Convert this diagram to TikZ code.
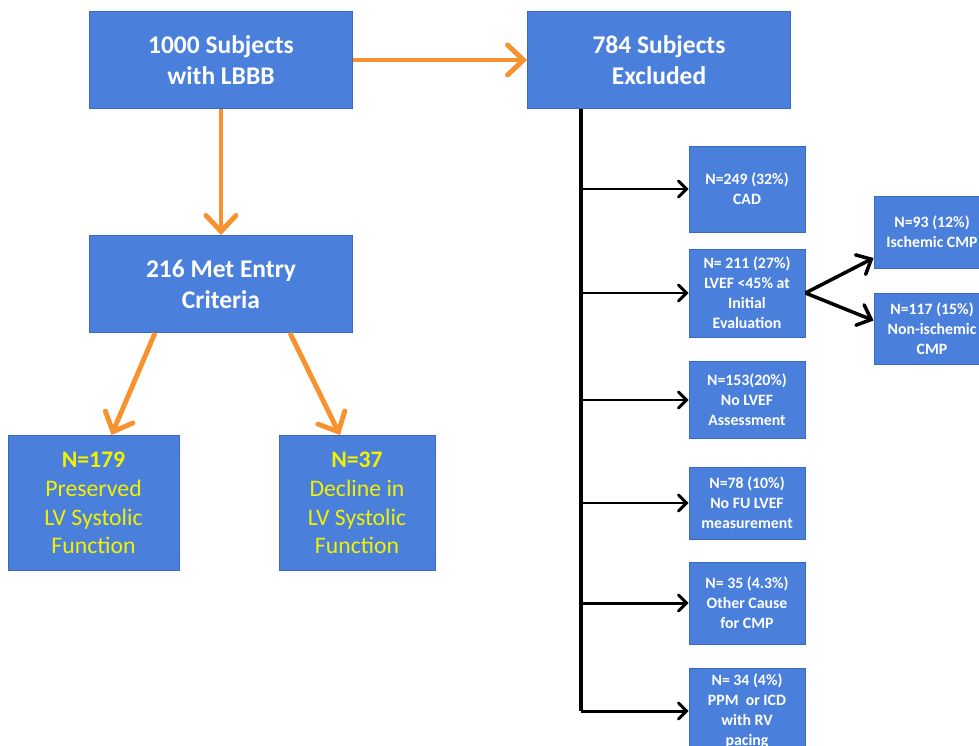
\documentclass[tikz,border=0pt]{standalone}
\usepackage{fontspec}
\setmainfont{Carlito}
\usepackage{tikz}
\usetikzlibrary{arrows.meta}

\definecolor{boxblue}{HTML}{4A80DC}
\definecolor{boxline}{HTML}{3A69C2}
\definecolor{flowor}{HTML}{F7922E}
\definecolor{txtyel}{HTML}{F2F200}

\begin{document}
\begin{tikzpicture}[x=0.02cm,y=-0.02cm,
  blue box/.style={fill=boxblue,draw=boxline,line width=0.5pt,align=center,inner sep=0pt},
  main box/.style={blue box,text=white,font=\fontsize{14.5}{17.6}\selectfont\bfseries,
    minimum width=5.26cm,minimum height=1.94cm},
  group box/.style={blue box,text=txtyel,font=\fontsize{13.5}{16.3}\selectfont,
    minimum height=2.7cm},
  small box/.style={blue box,text=white,font=\fontsize{9}{11.4}\selectfont\bfseries,
    minimum width=2.32cm},
  orange arrow/.style={draw=flowor,line width=2.8pt,
    -{Straight Barb[length=3.2mm,width=6mm,line cap=round]}},
  black arrow/.style={draw=black,line width=1.7pt,
    -{Straight Barb[length=1.6mm,width=3.2mm,line cap=round]}},
  barb arrow/.style={draw=black,line width=2pt,
    -{Straight Barb[length=2.4mm,width=4.4mm,line cap=round]}}]
\useasboundingbox (0,0) rectangle (979,746);
\clip (0,0) rectangle (979,746);

% left column
\node[main box] (lbbb) at (221,60) {1000 Subjects\\with LBBB};
\node[main box] (excl) at (659,60) {784 Subjects\\Excluded};
\node[main box] (entry) at (221,284) {216 Met Entry\\Criteria};
\node[group box,minimum width=3.42cm] (pres) at (93.5,503) {\textbf{N=179}\\Preserved\\LV Systolic\\Function};
\node[group box,minimum width=3.12cm] (decl) at (357,503) {\textbf{N=37}\\Decline in\\LV Systolic\\Function};

\draw[orange arrow] (lbbb.east) -- (excl.west);
\draw[orange arrow] (lbbb.south) -- (entry.north);
\draw[orange arrow] ([xshift=-1.32cm]entry.south) -- ([xshift=0.36cm]pres.north);
\draw[orange arrow] ([xshift=1.38cm]entry.south) -- ([xshift=-0.34cm]decl.north);

% exclusions
\node[small box,minimum height=1.72cm] (cad) at (747,189) {N=249 (32\%)\\CAD};
\node[small box,minimum height=1.76cm] (lvef) at (747,293) {N= 211 (27\%)\\LVEF <45\% at\\Initial\\Evaluation};
\node[small box,minimum height=1.54cm] (noas) at (747,400) {N=153(20\%)\\No LVEF\\Assessment};
\node[small box,minimum height=1.44cm] (nofu) at (747,503) {N=78 (10\%)\\No FU LVEF\\measurement};
\node[small box,minimum height=1.64cm] (other) at (747,603) {N= 35 (4.3\%)\\Other Cause\\for CMP};
\node[small box,minimum height=1.72cm] (pace) at (747,711) {N= 34 (4\%)\\PPM~ or ICD\\with RV\\pacing};
\node[small box,minimum height=1.44cm] (isch) at (932,232) {N=93 (12\%)\\Ischemic CMP};
\node[small box,minimum height=1.42cm] (nonis) at (932,328.5) {N=117 (15\%)\\Non-ischemic\\CMP};

\coordinate (trunktop) at (581,109);
\draw[line width=1.8pt] (trunktop) -- (pace.west -| trunktop);
\foreach \b in {cad,lvef,noas,nofu,other,pace}
  \draw[black arrow] (\b.west -| trunktop) -- (\b.west);

\draw[barb arrow] (lvef.east) -- ([yshift=-0.52cm]isch.west);
\draw[barb arrow] (lvef.east) -- ([yshift=0.16cm]nonis.west);
\end{tikzpicture}
\end{document}
